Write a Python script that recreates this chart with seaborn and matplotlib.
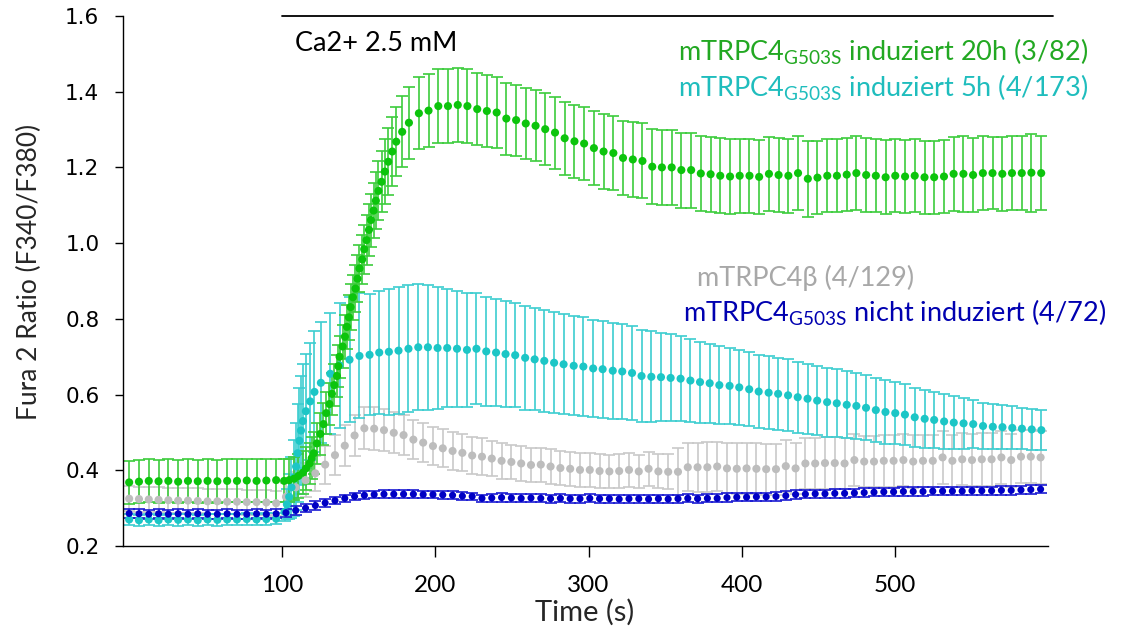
import numpy as np
import matplotlib
matplotlib.use("Agg")
import matplotlib.pyplot as plt
import seaborn as sns

# time grid of the regular frames (s)
frame_time = [0.0, 6.4, 12.8, 19.2, 25.6, 32.0, 38.4, 44.8, 51.2, 57.6, 64.0, 70.4, 76.8, 83.2, 89.6, 96.0,
              102.4, 108.8, 115.2, 121.6, 128.0, 134.4, 140.8, 147.2, 153.6, 160.0, 166.4, 172.8, 179.2, 185.6,
              192.0, 198.4, 204.8, 211.2, 217.6, 224.0, 230.4, 236.8, 243.2, 249.6, 256.0, 262.4, 268.8, 275.2,
              281.6, 288.0, 294.4, 300.8, 307.2, 313.6, 320.0, 326.4, 332.8, 339.2, 345.6, 352.0, 358.4, 364.8,
              371.2, 377.6, 384.0, 390.4, 396.8, 403.2, 409.6, 416.0, 422.4, 428.8, 435.2, 441.6, 448.0, 454.4,
              460.8, 467.2, 473.6, 480.0, 486.4, 492.8, 499.2, 505.6, 512.0, 518.4, 524.8, 531.2, 537.6, 544.0,
              550.4, 556.8, 563.2, 569.6, 576.0, 582.4, 588.8, 595.2]

# --- mTRPC4 G503S induziert 20h (3/82) ---
green_time = frame_time[:16] + [
    101.2, 104.5, 107.8, 110.5, 113.5, 115.5, 117.8, 119.2, 120.6, 122.6, 124.8, 126.9, 128.7, 130.8, 132.4,
    133.9, 135.7, 136.6, 137.4, 139.4, 140.9, 142.2, 143.5, 144.6, 146.1, 147.8, 149.1, 150.4, 152.2, 153.5,
    155.0, 156.6, 157.9, 159.6, 161.1, 162.8, 164.8, 167.0, 169.2, 171.8, 174.4, 178.3, 182.7, 189.2,
    195.5, 201.9, 208.2, 214.6, 220.9, 227.3, 233.6, 240.0, 246.3, 252.7, 259.0, 265.4, 271.7, 278.1, 284.4,
    290.8, 297.1, 303.5, 309.8, 316.2, 322.5, 328.9, 335.2, 341.6, 347.9, 354.3, 360.6, 367.0, 373.3, 379.7,
    386.0, 392.4, 398.7, 405.1, 411.4, 417.8, 424.1, 430.5, 436.8, 443.2, 449.5, 455.9, 462.2, 468.6, 474.9,
    481.3, 487.6, 494.0, 500.3, 506.7, 513.0, 519.4, 525.7, 532.1, 538.4, 544.8, 551.1, 557.5, 563.8, 570.2,
    576.5, 582.9, 589.2, 595.6]
green_mean = [
    0.368, 0.370, 0.372, 0.371, 0.372, 0.370, 0.372, 0.371, 0.372, 0.371, 0.372, 0.372, 0.373, 0.372, 0.373, 0.374,
    0.372, 0.374, 0.378, 0.385, 0.394, 0.405, 0.418, 0.432, 0.445, 0.471, 0.496, 0.522, 0.551, 0.575, 0.602,
    0.625, 0.649, 0.675, 0.700, 0.727, 0.753, 0.779, 0.804, 0.831, 0.857, 0.880, 0.906, 0.933, 0.957, 0.984,
    1.008, 1.035, 1.061, 1.086, 1.112, 1.138, 1.162, 1.189, 1.215, 1.242, 1.268, 1.294, 1.318, 1.343,
    1.350, 1.362, 1.362, 1.365, 1.362, 1.354, 1.349, 1.345, 1.329, 1.325, 1.316, 1.310, 1.301, 1.292, 1.277,
    1.269, 1.263, 1.251, 1.242, 1.238, 1.225, 1.221, 1.217, 1.202, 1.200, 1.200, 1.193, 1.193, 1.184, 1.182,
    1.178, 1.176, 1.178, 1.178, 1.175,
    1.183, 1.180, 1.178, 1.185, 1.170, 1.173, 1.178, 1.178, 1.181, 1.185, 1.180, 1.178, 1.174, 1.178, 1.176,
    1.178, 1.174, 1.174, 1.176, 1.183, 1.183, 1.180, 1.185, 1.185, 1.183, 1.185, 1.185, 1.186, 1.185]
green_err = [
    0.057, 0.057, 0.057, 0.057, 0.057, 0.057, 0.057, 0.057, 0.057, 0.057, 0.057, 0.057, 0.057, 0.057, 0.057, 0.057,
    0.057, 0.057, 0.057, 0.057, 0.056, 0.056, 0.055, 0.055, 0.055, 0.055, 0.055, 0.055, 0.055, 0.055, 0.055,
    0.055, 0.055, 0.056, 0.056, 0.057, 0.058, 0.058, 0.059, 0.060, 0.060, 0.061, 0.062, 0.063, 0.064, 0.065,
    0.066, 0.068, 0.070, 0.072, 0.075, 0.078, 0.081, 0.085, 0.088, 0.090, 0.092, 0.094, 0.095, 0.095,
    0.096, 0.097, 0.097, 0.097, 0.097, 0.096, 0.096, 0.095, 0.095, 0.094, 0.094, 0.094, 0.095, 0.095, 0.096,
    0.096, 0.097, 0.097, 0.098, 0.098, 0.098, 0.099, 0.099, 0.099, 0.099, 0.099, 0.099, 0.099, 0.099, 0.099,
    0.099, 0.098, 0.098, 0.098, 0.098,
    0.097, 0.097, 0.098, 0.097, 0.100, 0.096, 0.097, 0.097, 0.096, 0.097, 0.097, 0.096, 0.098, 0.097, 0.097,
    0.096, 0.097, 0.097, 0.097, 0.097, 0.100, 0.097, 0.097, 0.096, 0.097, 0.097, 0.097, 0.103, 0.098]

# --- mTRPC4 G503S induziert 5h (4/173) ---
cyan_time = frame_time[:16] + [
    101.5, 103.0, 104.5, 106.0, 107.5, 109.0, 110.0, 111.2, 112.2, 113.5, 115.4, 118.2, 121.0, 125.2, 131.3,
    137.4, 143.9, 150.4,
    157.0, 163.3, 169.6, 175.9, 182.4, 188.8, 195.1, 201.4, 207.7, 214.1, 220.6, 226.8, 233.2, 239.6, 245.8,
    252.1, 258.6, 264.8, 271.1, 277.5, 283.7, 290.3, 296.6, 303.0, 309.2, 315.8, 322.0, 328.4, 334.6, 341.0,
    347.3, 353.6, 360.1, 366.5, 372.8, 379.1, 385.4,
    392.1, 398.4, 404.9, 411.1, 417.6, 423.8, 430.3, 436.6, 443.0, 449.3, 455.8, 462.1, 468.6, 474.9, 481.2,
    487.6, 493.9, 500.3, 506.6, 513.0, 519.5, 525.7, 532.2, 538.5, 544.9, 551.2, 557.6, 564.0, 570.3, 576.7,
    583.0, 589.4, 595.7]
cyan_mean = [
    0.270, 0.268, 0.270, 0.268, 0.270, 0.269, 0.270, 0.268, 0.270, 0.269, 0.270, 0.270, 0.271, 0.270, 0.271, 0.272,
    0.290, 0.310, 0.330, 0.355, 0.380, 0.410, 0.445, 0.478, 0.505, 0.530, 0.556, 0.582, 0.607, 0.631, 0.655,
    0.677, 0.692, 0.702,
    0.705, 0.711, 0.713, 0.716, 0.721, 0.725, 0.725, 0.723, 0.723, 0.721, 0.718, 0.721, 0.714, 0.711, 0.707,
    0.704, 0.697, 0.693, 0.689, 0.684, 0.680, 0.676, 0.674, 0.669, 0.667, 0.663, 0.661, 0.657, 0.649, 0.647,
    0.646, 0.644, 0.642, 0.637, 0.633, 0.630, 0.625,
    0.623, 0.619, 0.614, 0.608, 0.605, 0.602, 0.598, 0.593, 0.589, 0.584, 0.580, 0.577, 0.573, 0.570, 0.565,
    0.559, 0.554, 0.551, 0.547, 0.540, 0.536, 0.533, 0.529, 0.526, 0.524, 0.522, 0.517, 0.515, 0.514, 0.512,
    0.510, 0.508, 0.506]
cyan_err = [
    0.015, 0.015, 0.015, 0.015, 0.015, 0.015, 0.015, 0.015, 0.015, 0.015, 0.015, 0.015, 0.015, 0.015, 0.015, 0.015,
    0.025, 0.040, 0.060, 0.080, 0.100, 0.115, 0.130, 0.140, 0.145, 0.150, 0.150, 0.155, 0.160, 0.160, 0.160,
    0.165, 0.165, 0.165,
    0.160, 0.163, 0.166, 0.168, 0.168, 0.167, 0.165, 0.160, 0.157, 0.153, 0.150, 0.147, 0.145, 0.142, 0.140,
    0.138, 0.137, 0.135, 0.134, 0.133, 0.132, 0.131, 0.130, 0.129, 0.128, 0.127, 0.126, 0.124, 0.122, 0.120,
    0.117, 0.115, 0.112, 0.110, 0.107, 0.104, 0.102,
    0.100, 0.099, 0.098, 0.097, 0.096, 0.095, 0.095, 0.094, 0.093, 0.092, 0.091, 0.090, 0.089, 0.087, 0.086,
    0.085, 0.084, 0.082, 0.080, 0.078, 0.076, 0.074, 0.072, 0.070, 0.067, 0.064, 0.062, 0.060, 0.058, 0.057,
    0.055, 0.054, 0.053]

# --- mTRPC4beta (4/129) ---
gray_mean = [
    0.325, 0.324, 0.323, 0.322, 0.321, 0.320, 0.320, 0.319, 0.318, 0.318, 0.317, 0.317, 0.316, 0.316, 0.315, 0.313,
    0.330, 0.355, 0.374, 0.392, 0.415, 0.440, 0.465, 0.492,
    0.511, 0.510, 0.506, 0.499, 0.493, 0.481, 0.473, 0.464, 0.458, 0.451, 0.446, 0.439, 0.436, 0.431, 0.425,
    0.422, 0.418, 0.414, 0.415, 0.410, 0.406, 0.404, 0.401, 0.401, 0.398, 0.397, 0.398, 0.401, 0.397, 0.404,
    0.397, 0.396, 0.396, 0.408, 0.408, 0.408, 0.410,
    0.405, 0.404, 0.405, 0.404, 0.403, 0.403, 0.411, 0.405, 0.418, 0.418, 0.419, 0.419, 0.418, 0.427, 0.423,
    0.423, 0.425, 0.425, 0.427, 0.423, 0.425, 0.425, 0.434, 0.425, 0.429, 0.427, 0.429, 0.429, 0.434, 0.427,
    0.436, 0.436, 0.434]
gray_err = [
    0.033, 0.033, 0.033, 0.033, 0.033, 0.033, 0.033, 0.033, 0.033, 0.033, 0.033, 0.033, 0.033, 0.033, 0.033, 0.033,
    0.036, 0.040, 0.044, 0.047, 0.050, 0.052, 0.054, 0.055,
    0.056, 0.056, 0.055, 0.054, 0.053, 0.052, 0.051,
    0.050, 0.050, 0.049, 0.049, 0.048, 0.048, 0.047, 0.047, 0.046, 0.046, 0.046, 0.045, 0.045, 0.045, 0.045,
    0.045, 0.044, 0.044, 0.044, 0.044, 0.044, 0.044, 0.045, 0.045, 0.046,
    0.062, 0.064, 0.065, 0.066, 0.066, 0.066, 0.067, 0.067, 0.067, 0.067, 0.067, 0.068, 0.068, 0.068, 0.068,
    0.068, 0.068, 0.068, 0.068, 0.068, 0.068, 0.069, 0.069, 0.069, 0.069, 0.069, 0.069, 0.069, 0.069, 0.069,
    0.069, 0.070, 0.070, 0.070, 0.070, 0.070, 0.070, 0.070]

# --- mTRPC4 G503S nicht induziert (4/72) ---
blue_mean = [
    0.286, 0.285, 0.284, 0.285, 0.284, 0.285, 0.284, 0.285, 0.284, 0.284, 0.285, 0.284, 0.284, 0.285, 0.284, 0.285,
    0.288, 0.294, 0.300, 0.307, 0.314, 0.320, 0.326, 0.331, 0.334,
    0.336, 0.337, 0.337, 0.337, 0.337, 0.336, 0.336, 0.335, 0.334, 0.332, 0.331,
    0.326, 0.327, 0.328, 0.327, 0.326, 0.327, 0.326, 0.325, 0.326, 0.325, 0.325, 0.326, 0.325, 0.325, 0.324,
    0.325, 0.325, 0.324, 0.325, 0.324, 0.325, 0.326, 0.325, 0.326, 0.326,
    0.328, 0.329, 0.329, 0.330, 0.330, 0.331, 0.333,
    0.336, 0.337, 0.338, 0.338, 0.339, 0.339, 0.340, 0.341,
    0.342, 0.343, 0.343, 0.344, 0.344, 0.344, 0.345, 0.345, 0.345, 0.345, 0.346, 0.346, 0.346, 0.347, 0.347,
    0.348, 0.349, 0.350]
blue_err = [
    0.012, 0.012, 0.012, 0.012, 0.012, 0.012, 0.012, 0.012, 0.012, 0.012, 0.012, 0.012, 0.012, 0.012, 0.012, 0.012,
    0.011, 0.011, 0.011, 0.011, 0.010, 0.010, 0.010, 0.010, 0.010,
    0.010, 0.010, 0.010, 0.010, 0.010, 0.010, 0.010, 0.010, 0.010, 0.010, 0.010,
    0.010, 0.011, 0.011, 0.011, 0.011, 0.011, 0.011, 0.011, 0.011, 0.011, 0.011, 0.011, 0.011, 0.011, 0.011,
    0.011, 0.011, 0.011, 0.011, 0.011, 0.011, 0.011, 0.011, 0.011, 0.011,
    0.011, 0.011, 0.011, 0.011, 0.011, 0.011, 0.011,
    0.011, 0.011, 0.011, 0.011, 0.011, 0.011, 0.011, 0.011,
    0.011, 0.011, 0.011, 0.011, 0.011, 0.011, 0.011, 0.011, 0.011, 0.011, 0.011, 0.011, 0.011, 0.011, 0.011,
    0.011, 0.011, 0.011]

labels = [r"mTRPC4$_{\mathrm{G503S}}$ induziert 20h (3/82)",
          r"mTRPC4$_{\mathrm{G503S}}$ induziert 5h (4/173)",
          "mTRPC4β (4/129)",
          r"mTRPC4$_{\mathrm{G503S}}$ nicht induziert (4/72)"]

ca_start, ca_end = 100, 603

sns.set_theme(style="ticks")
plt.rcParams["font.family"] = ["Lato", "DejaVu Sans"]
plt.rcParams["mathtext.fontset"] = "custom"
plt.rcParams["mathtext.rm"] = "Lato"
plt.rcParams["mathtext.it"] = "Lato:italic"
plt.rcParams["mathtext.bf"] = "Lato:bold"

fig = plt.figure(figsize=(11.35, 6.34), dpi=100)
ax = fig.add_axes([0.1084, 0.1388, 0.8149, 0.836])

series = [
    # time, mean, err, dot colour, bar colour, dot size
    (frame_time, gray_mean, gray_err, "#bdbdbd", "#c9c9c9", 34),
    (cyan_time, cyan_mean, cyan_err, "#1cc6c6", "#3ccdd0", 34),
    (green_time, green_mean, green_err, "#0cc40c", "#3ccc3c", 34),
    (frame_time, blue_mean, blue_err, "#0000c4", "#1a1ad2", 26),
]

for t, m, e, dot_col, bar_col, size in series:
    ax.errorbar(t, m, yerr=e, fmt="none", ecolor=bar_col, elinewidth=1.2,
                capsize=4.5, capthick=1.2, zorder=2)
for t, m, e, dot_col, bar_col, size in series:
    sns.scatterplot(x=t, y=m, color=dot_col, s=size, edgecolor="none", ax=ax, zorder=3)

# calcium application bar
ax.plot([ca_start, ca_end], [1.6, 1.6], color="black", lw=1.3, clip_on=False, zorder=4)
ax.text(108, 1.528, "Ca2+ 2.5 mM", fontsize=19.5, color="black", va="center", ha="left")

ax.set_xlim(-4, 600)
ax.set_ylim(0.2, 1.6)
ax.set_xticks([100, 200, 300, 400, 500])
ax.set_yticks([0.2, 0.4, 0.6, 0.8, 1.0, 1.2, 1.4, 1.6])
ax.set_yticklabels([f"{v:.1f}" for v in [0.2, 0.4, 0.6, 0.8, 1.0, 1.2, 1.4, 1.6]],
                   fontfamily="DejaVu Sans", fontsize=15.5)
ax.tick_params(axis="x", length=8, width=1, pad=13, labelsize=17.5, colors="black")
ax.tick_params(axis="y", length=6, width=1, pad=11, colors="black")
for side in ["top", "right"]:
    ax.spines[side].set_visible(False)
for side in ["left", "bottom"]:
    ax.spines[side].set_color("black")
    ax.spines[side].set_linewidth(1.0)
ax.set_xlabel("")
ax.set_ylabel("")

fig.text(0.026, 0.571, "Fura 2 Ratio (F340/F380)", rotation=90, fontsize=19,
         ha="center", va="center")
fig.text(0.5154, 0.0347, "Time (s)", fontsize=21, ha="center", va="center")

fig.text(0.5974, 0.918, labels[0], fontsize=19.5, color="#22a822", ha="left", va="center")
fig.text(0.5974, 0.861, labels[1], fontsize=19.5, color="#1fbdbd", ha="left", va="center")
fig.text(0.6141, 0.5615, labels[2], fontsize=19.5, color="#a8a8a8", ha="left", va="center")
fig.text(0.6018, 0.506, labels[3], fontsize=19.5, color="#0000b0", ha="left", va="center")

fig.savefig("out.png", dpi=100, facecolor="white")
